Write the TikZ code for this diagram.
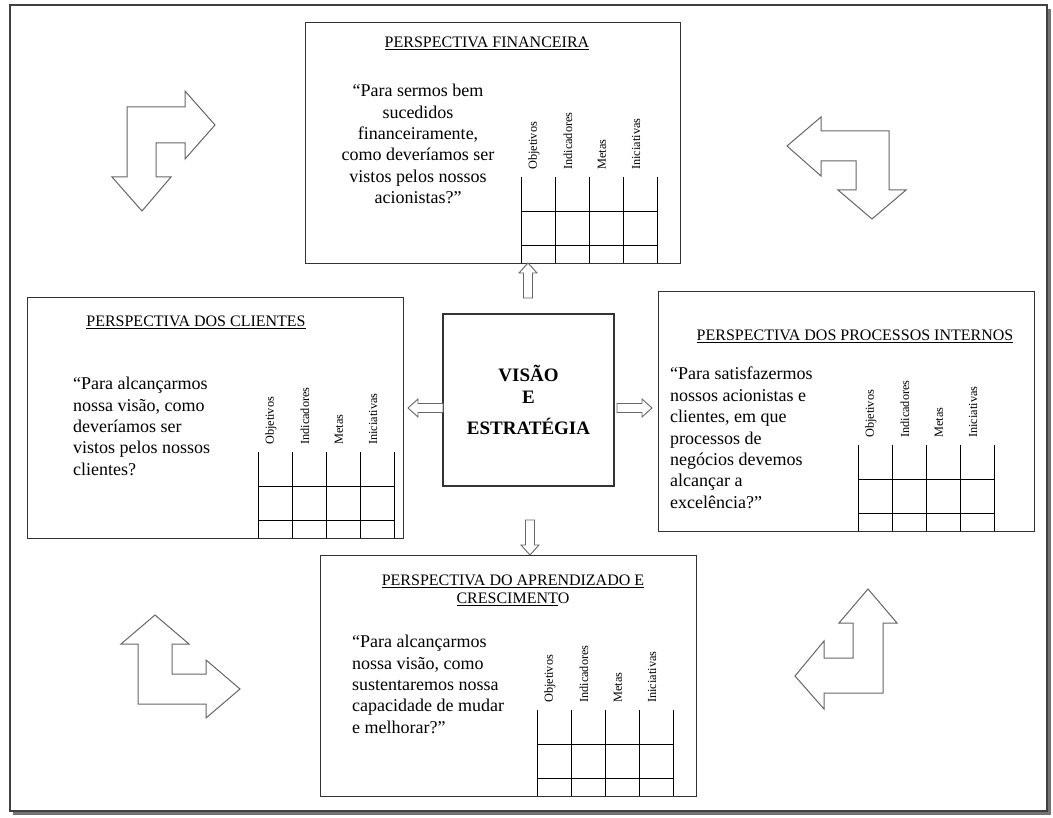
\documentclass[tikz,border=0pt]{standalone}
\usepackage{fontspec}
\setmainfont{Liberation Serif}
\usetikzlibrary{calc}
\newcommand{\bsctab}[3]{%
  \foreach \i in {0,...,4} \draw[tabline] (#1+34*\i,#2) -- (#1+34*\i,#3);
  \foreach \j in {1,2} \draw[tabline] (#1,#2+34*\j) -- (#1+136,#2+34*\j);
  \node[hdr] at (#1+13,#2-7) {Objetivos};
  \node[hdr] at (#1+47,#2-7) {Indicadores};
  \node[hdr] at (#1+81,#2-7) {Metas};
  \node[hdr] at (#1+115,#2-7) {Iniciativas};
}
\newcommand{\blkarrow}[3]{%
  \draw[blockline, shift={(#1,#2)}, rotate=#3]
    (0,-4.5) -- (25,-4.5) -- (25,-9) -- (35,0) -- (25,9) -- (25,4.5) -- (0,4.5) -- cycle;
}
\begin{document}
\begin{tikzpicture}[x=1pt,y=-1pt,
  box/.style={draw=black!80, line width=1.2pt, fill=white, inner sep=0pt, anchor=north west},
  tabline/.style={draw=black, line width=0.9pt},
  hdr/.style={rotate=90, anchor=west, inner sep=0pt, font=\fontsize{12.3}{14}\selectfont},
  ttl/.style={inner sep=0pt, font=\fontsize{16}{18}\selectfont, align=center},
  qtext/.style={inner sep=0pt, font=\fontsize{18}{21.4}\selectfont},
  bentarrow/.style={draw=black!60, line width=1pt, line join=miter},
  blockline/.style={draw=black!60, line width=0.9pt, fill=white, line join=miter}]
\useasboundingbox (0,0) rectangle (1053,818);
\fill[white] (0,0) rectangle (1053,818);
% frame with shadow
\fill[black!55] (13,9) rectangle (1051,815);
\draw[draw=black!75, line width=1.2pt, fill=white] (10,5) rectangle (1047,811);

% boxes
\node[box, minimum width=375pt, minimum height=241pt] (fin) at (305,22) {};
\node[box, minimum width=376pt, minimum height=241pt] (cli) at (27,297) {};
\node[box, minimum width=376pt, minimum height=240pt] (proc) at (658,291) {};
\node[box, minimum width=376pt, minimum height=241pt] (apr) at (320,555) {};
\node[draw=black!80, line width=1.2pt, fill=white, minimum width=171pt, minimum height=172pt,
  align=center, font=\fontsize{19}{22}\selectfont\bfseries] (vis) at (528.5,400)
  {VISÃO\\E\\[9pt]ESTRATÉGIA};

% titles
\node[ttl, anchor=base] (tfin) at (487,48) {\underline{PERSPECTIVA FINANCEIRA}};
\node[ttl, anchor=base] (tcli) at (196,327) {\underline{PERSPECTIVA DOS CLIENTES}};
\node[ttl, anchor=base] (tproc) at (855,341) {\underline{PERSPECTIVA DOS PROCESSOS INTERNOS}};
\node[ttl, anchor=north] (tapr) at (513,574.5) {\underline{PERSPECTIVA DO APRENDIZADO E}\\\underline{CRESCIMENT}O};

% quotes
\node[qtext, anchor=north, align=center] (qfin) at (418,84)
  {“Para sermos bem\\sucedidos\\financeiramente,\\como deveríamos ser\\vistos pelos nossos\\acionistas?”};
\node[qtext, anchor=north west, align=left] (qcli) at (73,377)
  {“Para alcançarmos\\nossa visão, como\\deveríamos ser\\vistos pelos nossos\\clientes?};
\node[qtext, anchor=north west, align=left] (qproc) at (670,367)
  {“Para satisfazermos\\nossos acionistas e\\clientes, em que\\processos de\\negócios devemos\\alcançar a\\excelência?”};
\node[qtext, anchor=north west, align=left] (qapr) at (352,635)
  {“Para alcançarmos\\nossa visão, como\\sustentaremos nossa\\capacidade de mudar\\e melhorar?”};

% tables
\bsctab{521}{177}{263}
\bsctab{258}{452}{538}
\bsctab{858}{445}{531}
\bsctab{537}{710}{796}

% block arrows from the centre
\blkarrow{528}{298}{90}
\blkarrow{530}{520}{-90}
\blkarrow{443}{408}{180}
\blkarrow{617}{408}{0}

% corner bent arrows
\draw[bentarrow] (127,107) -- (185,107) -- (185,91) -- (215,125) -- (185,159) -- (185,143)
  -- (156,143) -- (156,177) -- (171,177) -- (142,211) -- (112,177) -- (127,177) -- cycle;
\draw[bentarrow] (787,146) -- (821,117) -- (821,131) -- (889,131) -- (889,190) -- (906,190)
  -- (872,219) -- (838,190) -- (856,190) -- (856,161) -- (821,161) -- (821,176) -- cycle;
\draw[bentarrow] (155,615) -- (189,644) -- (172,644) -- (172,674) -- (206,674) -- (206,660)
  -- (240,689) -- (206,718) -- (206,704) -- (138,704) -- (138,644) -- (121,644) -- cycle;
\draw[bentarrow] (868,589) -- (897,623) -- (883,623) -- (883,693) -- (824,693) -- (824,709)
  -- (795,676) -- (824,641) -- (824,658) -- (853,658) -- (853,623) -- (839,623) -- cycle;
\end{tikzpicture}
\end{document}
